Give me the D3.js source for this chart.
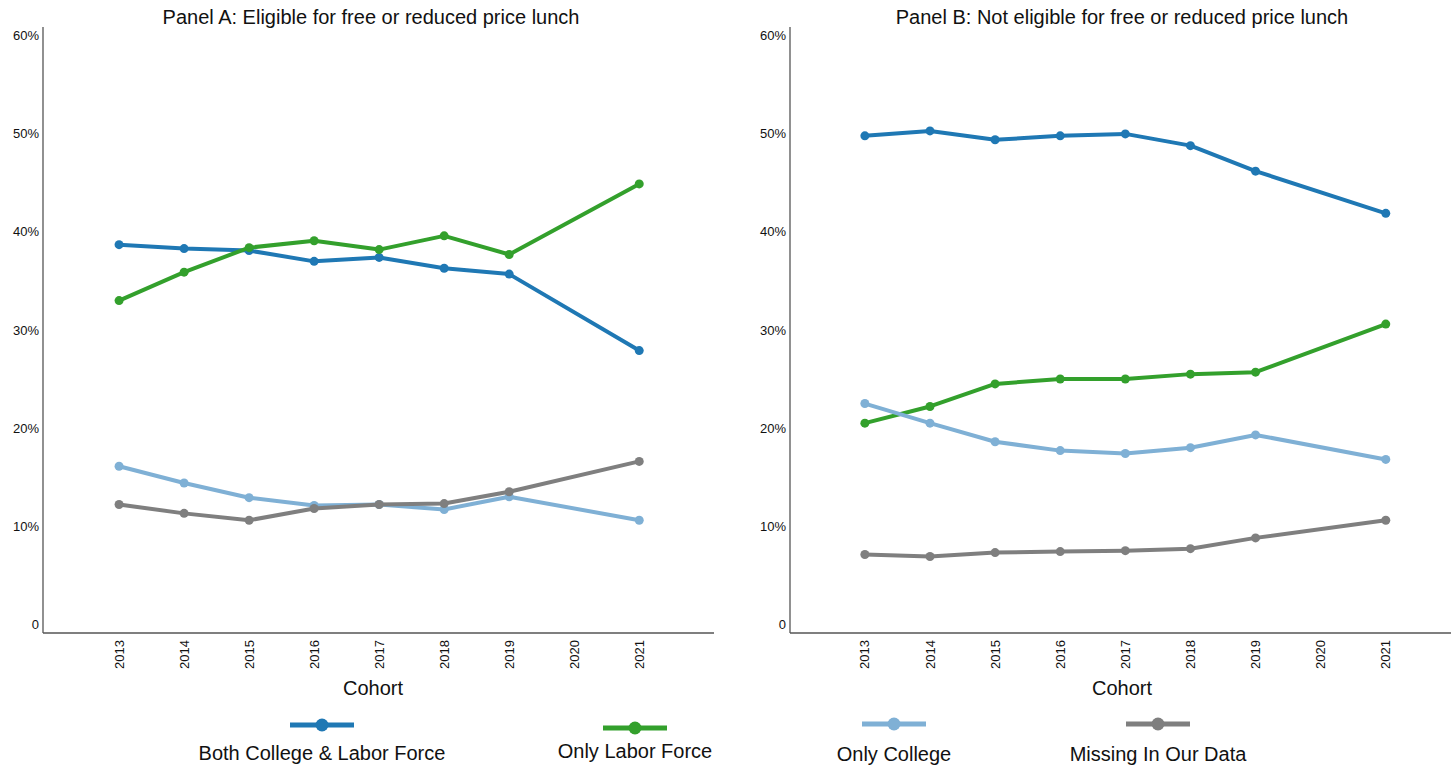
<!DOCTYPE html>
<html>
<head>
<meta charset="utf-8">
<script src="https://cdn.jsdelivr.net/npm/d3@7"></script>
<style>
  body { margin: 0; background: #fff; }
  text { font-family: "Liberation Sans", Arial, sans-serif; fill: #111; }
</style>
</head>
<body>
<svg width="1451" height="766"></svg>
<script>
const years = [2013, 2014, 2015, 2016, 2017, 2018, 2019, 2021];
const xTicks = [2013, 2014, 2015, 2016, 2017, 2018, 2019, 2020, 2021];
const yTicks = [0, 10, 20, 30, 40, 50, 60];
const seriesNames = ["Both College & Labor Force", "Only Labor Force", "Only College", "Missing In Our Data"];
const seriesColors = ["#1f78b4", "#33a02c", "#7fb0d5", "#7f7f7f"];

// Panel A: eligible for FRPL (percent)
const aBoth    = [38.7, 38.3, 38.1, 37.0, 37.4, 36.3, 35.7, 27.9];
const aLabor   = [33.0, 35.9, 38.4, 39.1, 38.2, 39.6, 37.7, 44.9];
const aCollege = [16.1, 14.4, 12.9, 12.1, 12.2, 11.7, 13.0, 10.6];
const aMissing = [12.2, 11.3, 10.6, 11.8, 12.2, 12.3, 13.5, 16.6];

// Panel B: not eligible
const bBoth    = [49.8, 50.3, 49.4, 49.8, 50.0, 48.8, 46.2, 41.9];
const bLabor   = [20.5, 22.2, 24.5, 25.0, 25.0, 25.5, 25.7, 30.6];
const bCollege = [22.5, 20.5, 18.6, 17.7, 17.4, 18.0, 19.3, 16.8];
const bMissing = [7.1, 6.9, 7.3, 7.4, 7.5, 7.7, 8.8, 10.6];

const svg = d3.select("svg");

const panels = [
  { title: "Panel A: Eligible for free or reduced price lunch", left: 43, right: 714,
    xDomain: [2011.83, 2022.15], titleX: 371, labelX: 373, data: [aBoth, aLabor, aCollege, aMissing] },
  { title: "Panel B: Not eligible for free or reduced price lunch", left: 790, right: 1460,
    xDomain: [2011.85, 2022.14], titleX: 1122, labelX: 1122, data: [bBoth, bLabor, bCollege, bMissing] }
];

const plotTop = 27, plotBottom = 633;

panels.forEach(p => {
  const x = d3.scaleLinear().domain(p.xDomain).range([p.left, p.right]);
  const y = d3.scaleLinear().domain([-0.9, 60.9]).range([plotBottom, plotTop]);
  const g = svg.append("g");

  // title
  g.append("text")
    .attr("x", p.titleX)
    .attr("y", 24)
    .attr("text-anchor", "middle")
    .style("font-size", "20px")
    .text(p.title);

  // axes lines
  g.append("line")
    .attr("x1", p.left).attr("x2", p.left)
    .attr("y1", plotTop).attr("y2", plotBottom)
    .attr("stroke", "#555").attr("stroke-width", 1.3);
  g.append("line")
    .attr("x1", p.left).attr("x2", p.right)
    .attr("y1", plotBottom).attr("y2", plotBottom)
    .attr("stroke", "#555").attr("stroke-width", 1.3);

  // y tick labels
  g.selectAll(".ytick").data(yTicks).enter().append("text")
    .attr("x", p.left - 4)
    .attr("y", d => y(d))
    .attr("dy", "0.35em")
    .attr("text-anchor", "end")
    .style("font-size", "13px")
    .text(d => d === 0 ? "0" : d + "%");

  // x tick labels, rotated
  g.selectAll(".xtick").data(xTicks).enter().append("text")
    .attr("transform", d => `translate(${x(d)}, ${plotBottom + 7}) rotate(-90)`)
    .attr("dy", "0.35em")
    .attr("text-anchor", "end")
    .style("font-size", "13px")
    .text(d => d);

  // x label
  g.append("text")
    .attr("x", p.labelX)
    .attr("y", 695)
    .attr("text-anchor", "middle")
    .style("font-size", "20px")
    .text("Cohort");

  const line = d3.line()
    .x((d, i) => x(years[i]))
    .y(d => y(d));

  p.data.forEach((vals, k) => {
    g.append("path")
      .datum(vals)
      .attr("d", line)
      .attr("fill", "none")
      .attr("stroke", seriesColors[k])
      .attr("stroke-width", 4)
      .attr("stroke-linejoin", "round");
    g.selectAll(".pt" + k).data(vals).enter().append("circle")
      .attr("cx", (d, i) => x(years[i]))
      .attr("cy", d => y(d))
      .attr("r", 4.5)
      .attr("fill", seriesColors[k]);
  });
});

// legend
const legendPos = [
  { cx: 322, ly: 725, ty: 760 },
  { cx: 635, ly: 728, ty: 758 },
  { cx: 894, ly: 724, ty: 761 },
  { cx: 1158, ly: 724, ty: 761 }
];
seriesNames.forEach((name, k) => {
  const lp = legendPos[k];
  const lg = svg.append("g");
  lg.append("line")
    .attr("x1", lp.cx - 32).attr("x2", lp.cx + 32)
    .attr("y1", lp.ly).attr("y2", lp.ly)
    .attr("stroke", seriesColors[k]).attr("stroke-width", 5);
  lg.append("circle")
    .attr("cx", lp.cx).attr("cy", lp.ly).attr("r", 6.5)
    .attr("fill", seriesColors[k]);
  lg.append("text")
    .attr("x", lp.cx).attr("y", lp.ty)
    .attr("text-anchor", "middle")
    .style("font-size", "20px")
    .text(name);
});
</script>
</body>
</html>
